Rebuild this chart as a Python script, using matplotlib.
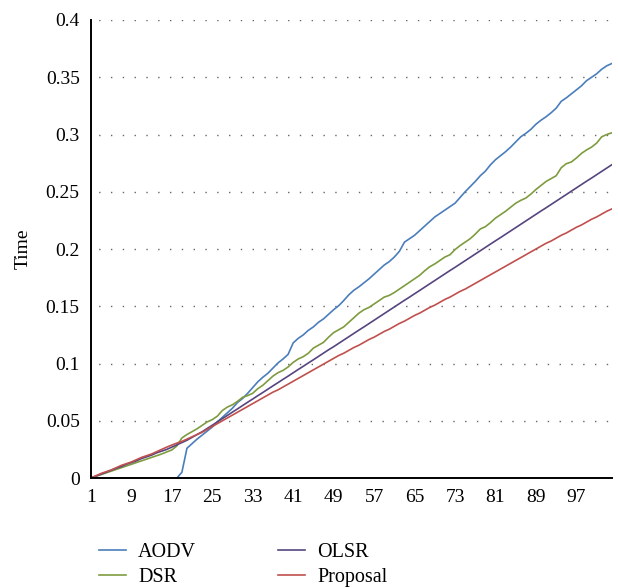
import matplotlib
matplotlib.use("Agg")
import matplotlib.pyplot as plt
import numpy as np

# x positions (categories 1..104)
x_vals = list(range(1, 105))
x_ticks = list(range(1, 105, 8))

aodv = [0] * 18 + [
    0.005, 0.026, 0.030, 0.034, 0.0375, 0.041, 0.0445, 0.049, 0.053, 0.057,
    0.061, 0.066, 0.0695, 0.074, 0.079, 0.084, 0.088, 0.0915, 0.096, 0.1005,
    0.104, 0.108, 0.118, 0.122, 0.125, 0.129, 0.132, 0.136, 0.139, 0.143,
    0.147, 0.1505, 0.155, 0.160, 0.164, 0.167, 0.1705, 0.174, 0.178, 0.182,
    0.186, 0.189, 0.193, 0.198, 0.206, 0.209, 0.212, 0.216, 0.220, 0.224,
    0.228, 0.231, 0.234, 0.237, 0.240, 0.245, 0.250, 0.2545, 0.259, 0.264,
    0.268, 0.2735, 0.278, 0.2815, 0.285, 0.289, 0.2935, 0.298, 0.301, 0.3045,
    0.309, 0.3125, 0.3155, 0.319, 0.323, 0.329, 0.332, 0.3355, 0.339, 0.3425,
    0.347, 0.350, 0.353, 0.357, 0.360, 0.362]

dsr = [
    0.0, 0.0015, 0.003, 0.0045, 0.006, 0.0075, 0.009, 0.0105, 0.012, 0.0135,
    0.015, 0.0165, 0.018, 0.0195, 0.021, 0.0228, 0.0245, 0.028, 0.035, 0.038,
    0.0405, 0.043, 0.046, 0.049, 0.051, 0.054, 0.059, 0.062, 0.064, 0.067,
    0.0705, 0.072, 0.074, 0.078, 0.081, 0.085, 0.089, 0.092, 0.094, 0.097,
    0.101, 0.104, 0.106, 0.109, 0.1135, 0.116, 0.1185, 0.123, 0.127, 0.1295,
    0.132, 0.136, 0.140, 0.144, 0.147, 0.149, 0.152, 0.155, 0.158, 0.1595,
    0.162, 0.165, 0.168, 0.171, 0.174, 0.177, 0.181, 0.1845, 0.187, 0.190,
    0.193, 0.195, 0.1995, 0.203, 0.206, 0.209, 0.213, 0.2175, 0.2195, 0.223,
    0.227, 0.230, 0.233, 0.2365, 0.240, 0.2425, 0.2445, 0.248, 0.252, 0.2555,
    0.259, 0.2615, 0.264, 0.271, 0.2745, 0.276, 0.2795, 0.2835, 0.2865, 0.289,
    0.2925, 0.298, 0.300, 0.3015]

olsr = [
    0.0, 0.0017, 0.0034, 0.005, 0.0068, 0.0085, 0.010, 0.012, 0.0135, 0.015,
    0.017, 0.0185, 0.020, 0.022, 0.0235, 0.025, 0.027, 0.029, 0.031, 0.033,
    0.0355, 0.038, 0.0404, 0.0433, 0.0461, 0.049, 0.0519, 0.0547, 0.0576, 0.0604,
    0.0633, 0.0662, 0.069, 0.0719, 0.0747, 0.0776, 0.0805, 0.0833, 0.0862, 0.089,
    0.0919, 0.0948, 0.0976, 0.1005, 0.1033, 0.1062, 0.1091, 0.112, 0.1147, 0.1176,
    0.1205, 0.1234, 0.1263, 0.1292, 0.132, 0.1349, 0.1378, 0.1407, 0.1436, 0.1465,
    0.1494, 0.1523, 0.1552, 0.158, 0.1609, 0.1638, 0.1667, 0.1696, 0.1725, 0.1754,
    0.1783, 0.1812, 0.184, 0.1869, 0.1898, 0.1927, 0.1956, 0.1985, 0.2014, 0.2043,
    0.2072, 0.210, 0.2129, 0.2158, 0.2187, 0.2216, 0.2245, 0.2274, 0.2303, 0.2332,
    0.236, 0.2389, 0.2418, 0.2447, 0.2476, 0.2505, 0.2534, 0.2563, 0.2592, 0.262,
    0.2649, 0.2678, 0.2707, 0.2736]

proposal = [
    0.0, 0.002, 0.004, 0.0055, 0.007, 0.009, 0.011, 0.0125, 0.014, 0.016,
    0.018, 0.0195, 0.021, 0.023, 0.025, 0.027, 0.0288, 0.0305, 0.032, 0.034,
    0.036, 0.038, 0.040, 0.0425, 0.045, 0.0475, 0.050, 0.0525, 0.055, 0.0575,
    0.060, 0.0625, 0.065, 0.0675, 0.070, 0.0725, 0.075, 0.077, 0.0795, 0.082,
    0.0845, 0.087, 0.0895, 0.092, 0.0945, 0.097, 0.0995, 0.102, 0.1045, 0.107,
    0.109, 0.1115, 0.114, 0.116, 0.1185, 0.121, 0.123, 0.1255, 0.128, 0.130,
    0.1325, 0.135, 0.137, 0.1395, 0.142, 0.144, 0.1465, 0.149, 0.151, 0.1535,
    0.156, 0.158, 0.1605, 0.163, 0.165, 0.1675, 0.170, 0.1725, 0.175, 0.1775,
    0.180, 0.1825, 0.185, 0.1875, 0.190, 0.1925, 0.195, 0.1975, 0.200, 0.2025,
    0.205, 0.207, 0.2095, 0.212, 0.214, 0.2165, 0.219, 0.221, 0.2235, 0.226,
    0.228, 0.2305, 0.233, 0.235]

series_names = ['AODV', 'DSR', 'OLSR', 'Proposal']
series_colors = ['#4a7ebb', '#7e9c3f', '#56457f', '#c0504d']

plt.rcParams['font.family'] = ['Liberation Serif', 'DejaVu Serif']

fig = plt.figure(figsize=(6.18, 5.88), dpi=100)
ax = fig.add_axes([0.147, 0.187, 0.843, 0.779])

lines = []
for vals, name, col in zip([aodv, dsr, olsr, proposal], series_names, series_colors):
    ln, = ax.plot(x_vals, vals, color=col, linewidth=1.2, label=name)
    lines.append(ln)

ax.set_xlim(1, 104)
ax.set_ylim(0, 0.4)
ax.set_xticks(x_ticks)
ax.set_yticks(np.arange(0, 0.401, 0.05))
ax.set_yticklabels(['0', '0.05', '0.1', '0.15', '0.2', '0.25', '0.3', '0.35', '0.4'])
ax.tick_params(axis='both', length=0, labelsize=14)
ax.tick_params(axis='x', pad=8)
ax.tick_params(axis='y', pad=8)

ax.yaxis.grid(True, color='#666666', linestyle=(3, (1, 7.5)), linewidth=1.0)
ax.set_axisbelow(True)

for s in ['top', 'right']:
    ax.spines[s].set_visible(False)
for s in ['left', 'bottom']:
    ax.spines[s].set_linewidth(1.4)
    ax.spines[s].set_color('black')

ax.set_ylabel('Time', fontsize=14, labelpad=10)

# legend: AODV, DSR in first column; OLSR, Proposal in second
fig.legend(lines, series_names, loc='upper left', bbox_to_anchor=(0.16, 0.077),
           ncol=2, frameon=False, fontsize=14.5, handlelength=1.35,
           handletextpad=0.6, columnspacing=4.05, labelspacing=0.32,
           borderaxespad=0.0, borderpad=0.0)

fig.savefig('out.png', dpi=100)
